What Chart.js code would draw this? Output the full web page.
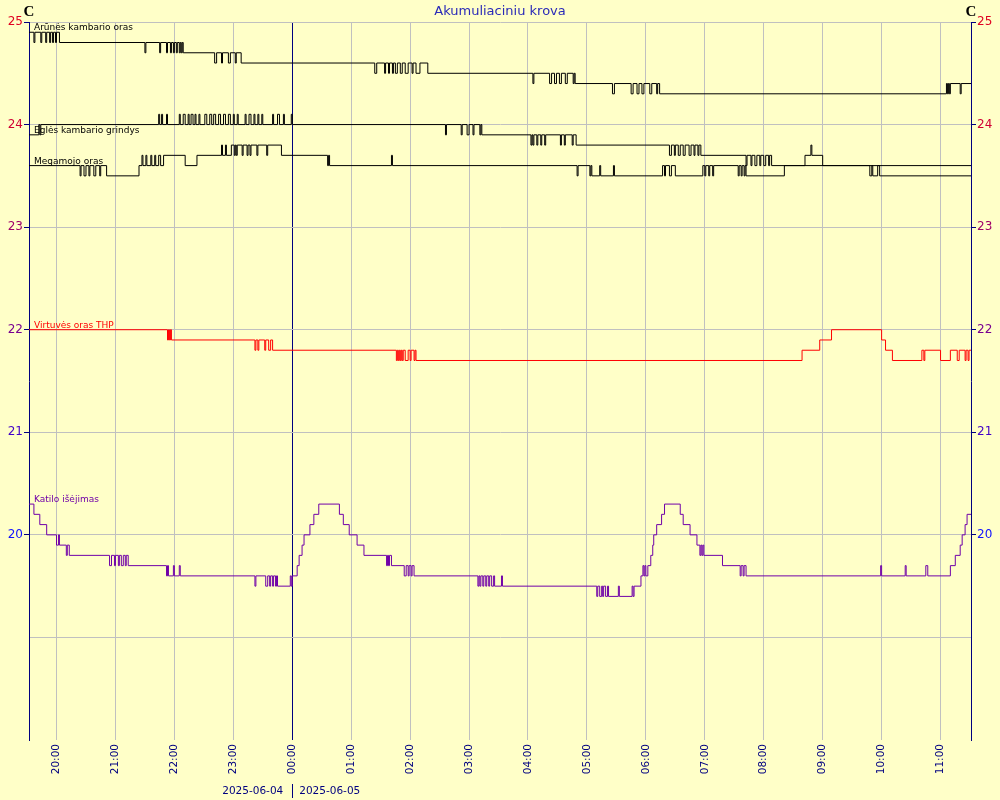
<!DOCTYPE html>
<html>
<head>
<meta charset="utf-8">
<script src="https://cdn.jsdelivr.net/npm/chart.js@4"></script>
<style>
  body { margin: 0; background: #ffffc8; }
  canvas { display: block; }
</style>
</head>
<body>
<canvas id="chart" width="1000" height="800"></canvas>
<script>
// Akumuliacinės talpos temperatūros, [laikas, °C]
const arunesOras = [
  ['19:32',24.9],['19:37',24.8],['19:38',24.9],['19:44',24.8],['19:45',24.9],['19:49',24.8],['19:50',24.9],['19:53',24.8],['19:54',24.9],
  ['19:56',24.8],['19:57',24.9],['19:59',24.8],['20:00',24.9],['20:03',24.8],
  ['21:30',24.7],['21:31',24.8],['21:45',24.7],['21:46',24.8],
  ['21:52',24.7],['21:53',24.8],['21:56',24.7],['21:57',24.8],['21:59',24.7],['22:00',24.8],['22:02',24.7],['22:03',24.8],
  ['22:05',24.7],['22:06',24.8],['22:07',24.7],['22:08',24.8],['22:09',24.7],
  ['22:41',24.6],['22:43',24.7],['22:48',24.6],['22:49',24.7],['22:55',24.6],['22:57',24.7],['23:02',24.6],['23:03',24.7],['23:08',24.6],
  ['01:24',24.5],['01:26',24.6],['01:34',24.5],['01:35',24.6],['01:38',24.5],['01:39',24.6],['01:42',24.5],['01:43',24.6],['01:45',24.5],
  ['01:47',24.6],['01:50',24.5],['01:52',24.6],['01:55',24.5],['01:58',24.6],['02:02',24.5],['02:03',24.6],['02:06',24.5],['02:10',24.6],['02:18',24.5],
  ['04:05',24.4],['04:06',24.5],['04:22',24.4],['04:24',24.5],['04:27',24.4],['04:29',24.5],['04:32',24.4],['04:34',24.5],['04:38',24.4],
  ['04:40',24.5],['04:46',24.4],['04:47',24.5],['04:48',24.4],
  ['05:26',24.3],['05:28',24.4],['05:45',24.3],['05:47',24.4],['05:51',24.3],['05:53',24.4],['05:56',24.3],['05:58',24.4],['06:04',24.3],
  ['06:06',24.4],['06:11',24.3],['06:12',24.4],['06:14',24.3],
  ['11:06',24.4],['11:07',24.3],['11:08',24.4],['11:09',24.3],['11:10',24.4],['11:20',24.3],['11:21',24.4],['11:31',24.4]
];
const eglesGrindys = [
  ['19:32',23.9],['19:42',24.0],['19:43',23.9],['19:44',24.0],
  ['21:44',24.1],['21:45',24.0],['21:47',24.1],['21:48',24.0],['21:52',24.1],['21:53',24.0],
  ['22:05',24.1],['22:06',24.0],['22:09',24.1],['22:11',24.0],['22:14',24.1],['22:15',24.0],['22:17',24.1],['22:19',24.0],['22:21',24.1],['22:22',24.0],['22:25',24.1],['22:26',24.0],
  ['22:31',24.1],['22:33',24.0],['22:36',24.1],['22:38',24.0],['22:40',24.1],['22:42',24.0],['22:45',24.1],['22:47',24.0],['22:50',24.1],['22:52',24.0],
  ['22:55',24.1],['22:57',24.0],['23:00',24.1],['23:01',24.0],['23:04',24.1],['23:05',24.0],
  ['23:12',24.1],['23:13',24.0],['23:16',24.1],['23:18',24.0],['23:21',24.1],['23:22',24.0],['23:25',24.1],['23:26',24.0],['23:29',24.1],['23:30',24.0],
  ['23:40',24.1],['23:41',24.0],['23:45',24.1],['23:47',24.0],['23:51',24.1],['23:52',24.0],['23:59',24.1],['00:00',24.0],
  ['02:36',23.9],['02:37',24.0],['02:52',23.9],['02:53',24.0],['02:58',23.9],['03:00',24.0],['03:04',23.9],['03:05',24.0],['03:11',23.9],['03:12',24.0],['03:13',23.9],
  ['04:03',23.8],['04:04',23.9],['04:05',23.8],['04:06',23.9],['04:09',23.8],['04:10',23.9],['04:13',23.8],['04:14',23.9],['04:17',23.8],['04:18',23.9],
  ['04:33',23.8],['04:34',23.9],['04:37',23.8],['04:38',23.9],['04:45',23.8],['04:46',23.9],['04:49',23.8],
  ['06:24',23.7],['06:26',23.8],['06:29',23.7],['06:30',23.8],['06:33',23.7],['06:35',23.8],['06:38',23.7],['06:40',23.8],['06:44',23.7],['06:46',23.8],
  ['06:49',23.7],['06:50',23.8],['06:53',23.7],['06:54',23.8],['06:56',23.7],
  ['07:42',23.6],['07:43',23.7],['07:47',23.6],['07:48',23.7],['07:51',23.6],['07:53',23.7],['07:56',23.6],['07:57',23.7],['08:00',23.6],['08:02',23.7],
  ['08:05',23.6],['08:06',23.7],['08:08',23.6],
  ['08:42',23.7],['08:48',23.8],['08:49',23.7],['09:00',23.6],['11:31',23.6]
];
const megamojoOras = [
  ['19:32',23.6],['20:24',23.5],['20:25',23.6],['20:28',23.5],['20:30',23.6],['20:33',23.5],['20:34',23.6],['20:38',23.5],['20:40',23.6],
  ['20:44',23.5],['20:45',23.6],['20:51',23.5],
  ['21:24',23.6],['21:27',23.7],['21:28',23.6],['21:31',23.7],['21:32',23.6],['21:36',23.7],['21:37',23.6],['21:40',23.7],['21:41',23.6],
  ['21:44',23.7],['21:46',23.6],['21:49',23.7],
  ['22:11',23.6],['22:23',23.7],
  ['22:48',23.8],['22:49',23.7],['22:52',23.8],['22:53',23.7],['22:58',23.8],['23:01',23.7],['23:02',23.8],['23:03',23.7],['23:04',23.8],
  ['23:09',23.7],['23:10',23.8],['23:14',23.7],['23:15',23.8],['23:17',23.7],['23:18',23.8],['23:24',23.7],['23:25',23.8],['23:34',23.7],
  ['23:35',23.8],['23:49',23.7],
  ['00:36',23.6],['00:37',23.7],['00:38',23.6],['01:41',23.7],['01:42',23.6],
  ['04:50',23.5],['04:51',23.6],['05:03',23.5],['05:04',23.6],['05:05',23.5],['05:13',23.6],['05:14',23.5],['05:27',23.6],['05:28',23.5],
  ['06:17',23.6],['06:19',23.5],['06:20',23.6],['06:24',23.5],['06:26',23.6],['06:30',23.5],
  ['06:58',23.6],['07:00',23.5],['07:01',23.6],['07:04',23.5],['07:05',23.6],['07:08',23.5],['07:09',23.6],
  ['07:34',23.5],['07:35',23.6],['07:37',23.5],['07:38',23.6],['07:40',23.5],['07:41',23.6],['07:42',23.5],
  ['08:21',23.6],['09:48',23.5],['09:50',23.6],['09:51',23.5],['09:56',23.6],['09:58',23.5],['11:31',23.5]
];
const virtuvesOras = [
  ['19:32',22.0],['21:53',21.9],['21:54',22.0],['21:55',21.9],['21:56',22.0],['21:57',21.9],
  ['23:22',21.8],['23:23',21.9],['23:25',21.8],['23:26',21.9],['23:32',21.8],['23:33',21.9],['23:36',21.8],['23:38',21.9],['23:40',21.8],
  ['01:46',21.7],['01:47',21.8],['01:48',21.7],['01:49',21.8],['01:50',21.7],['01:51',21.8],['01:52',21.7],['01:53',21.8],['01:55',21.7],
  ['01:58',21.8],['02:00',21.7],['02:01',21.8],['02:04',21.7],['02:05',21.8],['02:06',21.7],
  ['08:39',21.8],['08:57',21.9],['09:09',22.0],['10:00',21.9],['10:04',21.8],['10:11',21.7],
  ['10:41',21.8],['10:43',21.7],['10:44',21.8],['11:00',21.7],['11:10',21.8],['11:17',21.7],['11:19',21.8],
  ['11:25',21.7],['11:26',21.8],['11:28',21.7],['11:29',21.8],['11:31',21.8]
];
const katiloIsejimas = [
  ['19:32',20.3],['19:37',20.2],['19:43',20.1],['19:50',20.0],['20:00',19.9],['20:02',20.0],['20:03',19.9],
  ['20:10',19.8],['20:11',19.9],['20:13',19.8],
  ['20:54',19.7],['20:56',19.8],['20:59',19.7],['21:00',19.8],['21:03',19.7],['21:04',19.8],['21:06',19.7],['21:08',19.8],
  ['21:10',19.7],['21:11',19.8],['21:13',19.7],
  ['21:52',19.6],['21:53',19.7],['21:54',19.6],['21:59',19.7],['22:00',19.6],['22:05',19.7],['22:06',19.6],
  ['23:22',19.5],['23:23',19.6],['23:33',19.5],['23:35',19.6],['23:37',19.5],['23:38',19.6],['23:40',19.5],['23:41',19.6],
  ['23:43',19.5],['23:44',19.6],['23:45',19.5],['23:58',19.6],['23:59',19.5],['00:00',19.6],
  ['00:05',19.7],['00:07',19.8],['00:10',19.9],['00:12',20.0],['00:18',20.1],['00:22',20.2],['00:27',20.3],
  ['00:48',20.2],['00:52',20.1],['00:58',20.0],['01:06',19.9],['01:13',19.8],
  ['01:36',19.7],['01:37',19.8],['01:38',19.7],['01:39',19.8],['01:41',19.7],
  ['01:54',19.6],['01:56',19.7],['01:58',19.6],['01:59',19.7],['02:01',19.6],['02:02',19.7],['02:04',19.6],
  ['03:09',19.5],['03:10',19.6],['03:11',19.5],['03:12',19.6],['03:14',19.5],['03:15',19.6],['03:17',19.5],['03:18',19.6],
  ['03:20',19.5],['03:21',19.6],['03:23',19.5],['03:25',19.6],['03:26',19.5],['03:33',19.6],['03:34',19.5],
  ['05:10',19.4],['05:11',19.5],['05:13',19.4],['05:15',19.5],['05:16',19.4],['05:17',19.5],['05:19',19.4],['05:21',19.5],['05:22',19.4],
  ['05:32',19.5],['05:33',19.4],['05:46',19.5],['05:47',19.4],['05:48',19.5],['05:55',19.6],['05:57',19.7],['05:58',19.6],
  ['05:59',19.7],['06:00',19.6],['06:02',19.7],['06:05',19.8],['06:07',19.9],['06:08',20.0],['06:11',20.1],['06:16',20.2],['06:19',20.3],
  ['06:35',20.2],['06:38',20.1],['06:45',20.0],['06:52',19.9],['06:55',19.8],['06:56',19.9],['06:57',19.8],['06:58',19.9],['06:59',19.8],
  ['07:18',19.7],['07:36',19.6],['07:37',19.7],['07:39',19.6],['07:40',19.7],['07:42',19.6],
  ['09:59',19.7],['10:00',19.6],['10:24',19.7],['10:25',19.6],['10:45',19.7],['10:47',19.6],
  ['11:10',19.7],['11:15',19.8],['11:20',19.9],['11:22',20.0],['11:25',20.1],['11:27',20.2],['11:31',20.2]
];

const seriesNames = ['Arūnės kambario oras', 'Eglės kambario grindys', 'Megamojo oras', 'Virtuvės oras THP', 'Katilo išėjimas'];
const seriesData = [arunesOras, eglesGrindys, megamojoOras, virtuvesOras, katiloIsejimas];
const xTickTimes = ['20:00', '21:00', '22:00', '23:00', '00:00', '01:00', '02:00', '03:00', '04:00', '05:00', '06:00', '07:00', '08:00', '09:00', '10:00', '11:00'];
const yTickLabels = [20, 21, 22, 23, 24, 25];
const dayLabels = ['2025-06-04', '2025-06-05'];
const chartTitle = 'Akumuliaciniu krova';
const unitLabel = 'C';
const timeRange = ['19:32', '11:31'];
const dayBreak = '00:00';

// spalvos
const lineColors = ['#000000', '#000000', '#000000', '#ff0000', '#7000a8'];
const yLabelColors = { 25: '#e00020', 24: '#d00034', 23: '#a00068', 22: '#780090', 21: '#4000c8', 20: '#1010ff' };
const axisBlue = '#000080';
const gridGrey = '#c0c0c0';
const bgColor = '#ffffc8';

// laikas -> minutės nuo 20:00 (po vidurnakčio - kita diena)
function toMin(t) {
  const [h, m] = t.split(':').map(Number);
  return (h < 12 ? h + 24 : h) * 60 + m - 20 * 60;
}
function fromMin(v) {
  const total = v + 20 * 60;
  const h = Math.floor(total / 60) % 24, m = ((total % 60) + 60) % 60;
  return String(h).padStart(2, '0') + ':' + String(m).padStart(2, '0');
}

const datasets = seriesData.map((s, i) => ({
  label: seriesNames[i],
  data: s.map(p => ({ x: toMin(p[0]), y: p[1] })),
  borderColor: lineColors[i],
  borderWidth: 1,
  pointRadius: 0,
  stepped: true,
  fill: false
}));

const bgPlugin = {
  id: 'bg',
  beforeDraw(chart) {
    const ctx = chart.ctx;
    ctx.save();
    ctx.fillStyle = bgColor;
    ctx.fillRect(0, 0, chart.width, chart.height);
    ctx.restore();
  }
};

const textPlugin = {
  id: 'texts',
  afterDraw(chart) {
    const { ctx, chartArea, scales } = chart;
    ctx.save();
    // vienetai
    ctx.fillStyle = '#000';
    ctx.font = 'bold 15px "Liberation Serif"';
    ctx.textAlign = 'center';
    ctx.textBaseline = 'middle';
    ctx.fillText(unitLabel, chartArea.left, 12);
    ctx.fillText(unitLabel, chartArea.right, 12);
    // serijų pavadinimai
    ctx.font = '9px "DejaVu Sans"';
    ctx.textAlign = 'left';
    ctx.textBaseline = 'alphabetic';
    seriesData.forEach((s, i) => {
      ctx.fillStyle = lineColors[i];
      ctx.fillText(seriesNames[i], chartArea.left + 5, scales.y.getPixelForValue(s[0][1]) - 2);
    });
    // datos
    const mx = scales.x.getPixelForValue(toMin(dayBreak));
    ctx.fillStyle = axisBlue;
    ctx.font = '10.5px "DejaVu Sans"';
    ctx.textBaseline = 'middle';
    ctx.textAlign = 'right';
    ctx.fillText(dayLabels[0], mx - 9, 791);
    ctx.textAlign = 'left';
    ctx.fillText(dayLabels[1], mx + 7, 791);
    ctx.strokeStyle = axisBlue;
    ctx.lineWidth = 1;
    ctx.beginPath();
    ctx.moveTo(Math.round(mx) + 0.5, 784);
    ctx.lineTo(Math.round(mx) + 0.5, 798);
    ctx.stroke();
    ctx.restore();
  }
};

const yTickColor = c => yTickLabels.includes(c.tick.value) ? (yLabelColors[c.tick.value] || axisBlue) : 'transparent';

const config = {
  type: 'line',
  data: { datasets: datasets },
  options: {
    responsive: false,
    animation: false,
    devicePixelRatio: 1,
    layout: { padding: 0 },
    plugins: {
      legend: { display: false },
      tooltip: { enabled: false },
      title: {
        display: true,
        text: chartTitle,
        color: '#2a2ab8',
        font: { family: 'DejaVu Sans', size: 13, weight: 'normal', lineHeight: 1.2 },
        padding: { top: 4, bottom: 2.4 }
      }
    },
    scales: {
      x: {
        type: 'linear',
        min: toMin(timeRange[0]),
        max: toMin(timeRange[1]),
        afterBuildTicks: s => { s.ticks = xTickTimes.map(t => ({ value: toMin(t) })); },
        afterFit: s => { s.height = 60; },
        border: { display: false },
        grid: {
          color: c => c.tick.value === toMin(dayBreak) ? axisBlue : gridGrey,
          lineWidth: 1,
          drawTicks: false
        },
        ticks: {
          autoSkip: false,
          minRotation: 90,
          maxRotation: 90,
          padding: 4,
          color: axisBlue,
          font: { family: 'DejaVu Sans', size: 10.5 },
          callback: v => fromMin(v)
        }
      },
      y: {
        position: 'left',
        min: 18,
        max: 25,
        afterFit: s => { s.width = 29; },
        border: { display: true, color: axisBlue, width: 1 },
        grid: {
          color: c => c.tick.value === 18 ? 'transparent' : gridGrey,
          tickColor: c => yTickLabels.includes(c.tick.value) ? axisBlue : 'transparent',
          tickLength: 5
        },
        ticks: {
          stepSize: 1,
          padding: 1,
          color: yTickColor,
          font: { family: 'DejaVu Sans', size: 12 },
          callback: v => yTickLabels.includes(v) ? String(v) : ''
        }
      },
      y2: {
        position: 'right',
        min: 18,
        max: 25,
        afterFit: s => { s.width = 29; },
        border: { display: true, color: axisBlue, width: 1 },
        grid: {
          drawOnChartArea: false,
          tickColor: c => yTickLabels.includes(c.tick.value) ? axisBlue : 'transparent',
          tickLength: 5
        },
        ticks: {
          stepSize: 1,
          padding: 1,
          color: yTickColor,
          font: { family: 'DejaVu Sans', size: 12 },
          callback: v => yTickLabels.includes(v) ? String(v) : ''
        }
      }
    }
  },
  plugins: [bgPlugin, textPlugin]
};

const ctx = document.getElementById('chart').getContext('2d');
new Chart(ctx, config);
</script>
</body>
</html>
